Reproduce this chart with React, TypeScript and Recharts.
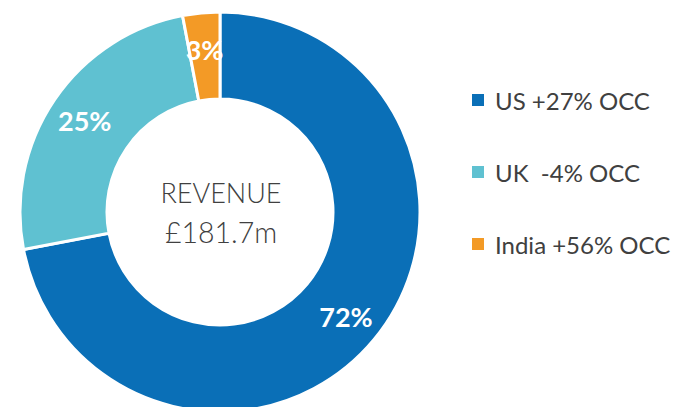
import React from "react";
import { PieChart, Pie, Cell, Legend } from "recharts";

const regions = ["US", "UK", "India"];
const shares = [72, 25, 3];
const legendLabels = ["US +27% OCC", "UK  -4% OCC", "India +56% OCC"];
const colors = ["#0A6FB7", "#5FC1D1", "#F39A26"];
const centerTitle = "REVENUE";
const centerValue = "£181.7m";

const data = regions.map((r, i) => ({ name: r, value: shares[i], legend: legendLabels[i] }));

const FONT = "Lato, 'Open Sans', sans-serif";
const RAD = Math.PI / 180;

const renderLabel = (props: any) => {
  const { cx, cy, midAngle, innerRadius, outerRadius, value } = props;
  const r = (innerRadius + outerRadius) / 2 + 7;
  const x = cx + r * Math.cos(-midAngle * RAD);
  const y = cy + r * Math.sin(-midAngle * RAD);
  return (
    <text x={x} y={y} fill="#ffffff" textAnchor="middle" dominantBaseline="central"
      style={{ fontFamily: FONT, fontWeight: 700, fontSize: 27 }}>
      {`${value}%`}
    </text>
  );
};

const renderLegend = () => (
  <div style={{ fontFamily: FONT, color: "#404040", fontSize: 24 }}>
    {data.map((d, i) => (
      <div key={d.name} style={{ display: "flex", alignItems: "center", height: 72, whiteSpace: "pre" }}>
        <span style={{ display: "inline-block", width: 12, height: 12, background: colors[i], marginRight: 11 }} />
        <span>{d.legend}</span>
      </div>
    ))}
  </div>
);

export default function App() {
  return (
    <div style={{ position: "absolute", left: 0, top: 0, background: "#fff" }}>
      <PieChart width={675} height={407} margin={{ top: 0, right: 0, bottom: 0, left: 0 }}>
        <Pie
          data={data}
          dataKey="value"
          nameKey="name"
          cx={220}
          cy={212}
          innerRadius={113}
          outerRadius={200}
          startAngle={90}
          endAngle={-270}
          stroke="#ffffff"
          strokeWidth={3}
          label={renderLabel}
          labelLine={false}
          isAnimationActive={false}
        >
          {data.map((d, i) => (
            <Cell key={d.name} fill={colors[i]} />
          ))}
        </Pie>
        <text x={221} y={192} textAnchor="middle" dominantBaseline="central"
          style={{ fontFamily: FONT, fontSize: 27, fill: "#404040", fontWeight: 300 }}>
          {centerTitle}
        </text>
        <text x={221} y={232} textAnchor="middle" dominantBaseline="central"
          style={{ fontFamily: FONT, fontSize: 28.5, fill: "#404040", fontWeight: 300 }}>
          {centerValue}
        </text>
        <Legend content={renderLegend} layout="vertical" verticalAlign="top" align="right"
          wrapperStyle={{ left: 472, top: 64, width: 200 }} />
      </PieChart>
    </div>
  );
}
